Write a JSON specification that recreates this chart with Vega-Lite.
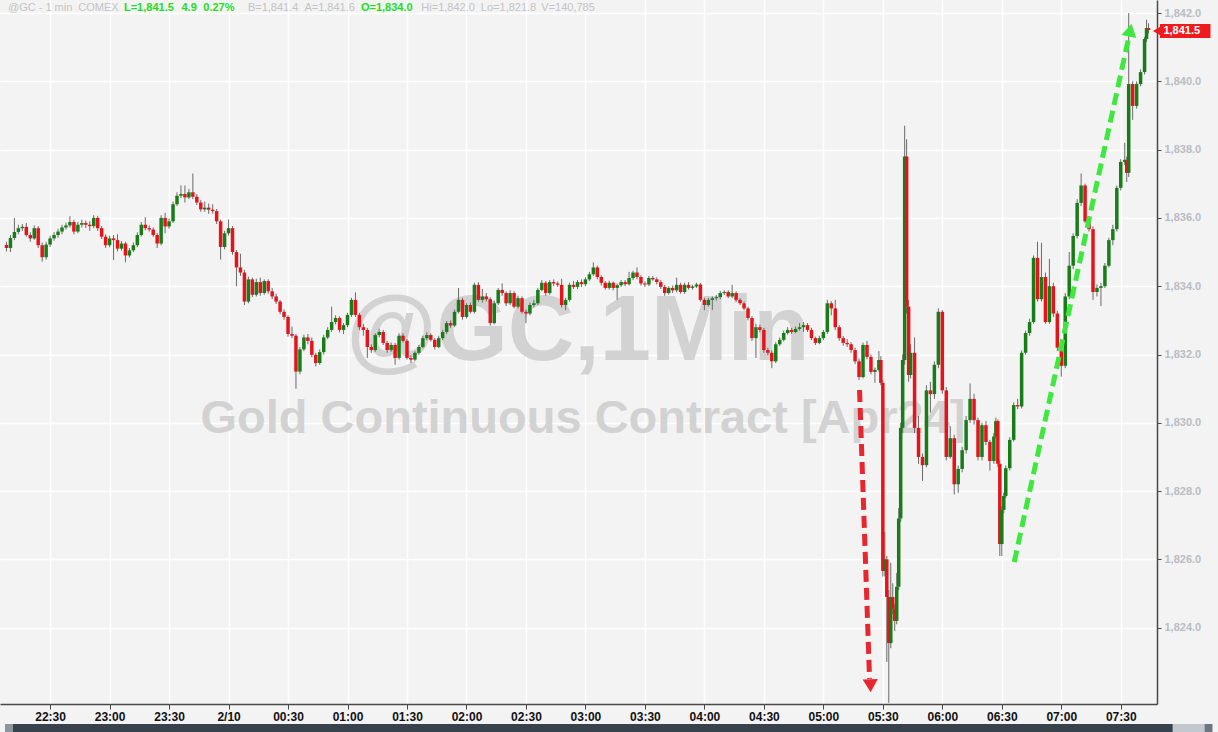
{
"$schema": "https://vega.github.io/schema/vega-lite/v6.json",
"width": 1157,
"height": 704,
"autosize": {"type": "none"},
"padding": {"left": 0, "top": 0, "right": 61, "bottom": 28},
"background": "#f3f3f3",
"resolve": {"scale": {"color": "independent"}},
"config": {
"view": {"stroke": null, "fill": "#f3f3f3"},
"font": "Liberation Sans",
"axisX": {"grid": true, "gridColor": "#ffffff", "gridWidth": 1.5, "domainColor": "#4a4a4a", "domainWidth": 1.5, "tickColor": "#4a4a4a", "tickSize": 5, "labelColor": "#111111", "labelFont": "Liberation Sans", "labelFontSize": 12, "labelFontWeight": "bold", "labelPadding": 2, "labelOverlap": false, "labelFlush": false, "title": null},
"axisY": {"grid": true, "gridColor": "#ffffff", "gridWidth": 1.5, "domainColor": "#4a4a4a", "domainWidth": 1.5, "tickColor": "#4a4a4a", "tickSize": 4, "labelColor": "#b9bdc3", "labelFont": "Liberation Sans", "labelFontSize": 11, "labelFontWeight": "bold", "labelPadding": 3, "labelOverlap": false, "labelFlush": false, "title": null}
},
"datasets": {
"candles": [
{"m":8,"o":1835.21,"h":1835.3,"l":1835.02,"c":1835.12},
{"m":10,"o":1835.12,"h":1835.5,"l":1835.0,"c":1835.41},
{"m":12,"o":1835.41,"h":1836.0,"l":1835.35,"c":1835.59},
{"m":14,"o":1835.59,"h":1835.8,"l":1835.52,"c":1835.7},
{"m":16,"o":1835.7,"h":1835.82,"l":1835.62,"c":1835.74},
{"m":18,"o":1835.74,"h":1835.85,"l":1835.45,"c":1835.5},
{"m":20,"o":1835.5,"h":1835.58,"l":1835.3,"c":1835.4},
{"m":22,"o":1835.4,"h":1835.78,"l":1835.36,"c":1835.7},
{"m":24,"o":1835.7,"h":1835.76,"l":1835.12,"c":1835.2},
{"m":26,"o":1835.2,"h":1835.28,"l":1834.72,"c":1834.85},
{"m":28,"o":1834.85,"h":1835.3,"l":1834.78,"c":1835.22},
{"m":30,"o":1835.22,"h":1835.48,"l":1835.15,"c":1835.4},
{"m":32,"o":1835.4,"h":1835.58,"l":1835.33,"c":1835.5},
{"m":34,"o":1835.5,"h":1835.68,"l":1835.42,"c":1835.6},
{"m":36,"o":1835.6,"h":1835.8,"l":1835.52,"c":1835.72},
{"m":38,"o":1835.72,"h":1835.86,"l":1835.66,"c":1835.78},
{"m":40,"o":1835.78,"h":1836.05,"l":1835.72,"c":1835.88},
{"m":42,"o":1835.88,"h":1835.95,"l":1835.52,"c":1835.6},
{"m":44,"o":1835.6,"h":1835.88,"l":1835.55,"c":1835.8},
{"m":46,"o":1835.8,"h":1835.95,"l":1835.72,"c":1835.85},
{"m":48,"o":1835.85,"h":1835.92,"l":1835.7,"c":1835.8},
{"m":50,"o":1835.8,"h":1835.9,"l":1835.62,"c":1835.76},
{"m":52,"o":1835.76,"h":1836.08,"l":1835.7,"c":1836.0},
{"m":54,"o":1836.0,"h":1836.06,"l":1835.62,"c":1835.7},
{"m":56,"o":1835.7,"h":1835.76,"l":1835.38,"c":1835.45},
{"m":58,"o":1835.45,"h":1835.52,"l":1835.12,"c":1835.2},
{"m":60,"o":1835.2,"h":1835.48,"l":1835.14,"c":1835.4},
{"m":62,"o":1835.4,"h":1835.5,"l":1834.77,"c":1835.35},
{"m":64,"o":1835.35,"h":1835.52,"l":1835.02,"c":1835.1},
{"m":66,"o":1835.1,"h":1835.32,"l":1835.04,"c":1835.25},
{"m":68,"o":1835.25,"h":1835.3,"l":1834.7,"c":1834.9},
{"m":70,"o":1834.9,"h":1835.12,"l":1834.84,"c":1835.05},
{"m":72,"o":1835.05,"h":1835.28,"l":1835.0,"c":1835.2},
{"m":74,"o":1835.2,"h":1835.58,"l":1835.14,"c":1835.5},
{"m":76,"o":1835.5,"h":1835.88,"l":1835.45,"c":1835.8},
{"m":78,"o":1835.8,"h":1836.02,"l":1835.64,"c":1835.7},
{"m":80,"o":1835.7,"h":1835.78,"l":1835.6,"c":1835.66},
{"m":82,"o":1835.66,"h":1835.72,"l":1835.44,"c":1835.5},
{"m":84,"o":1835.5,"h":1835.56,"l":1835.12,"c":1835.25},
{"m":86,"o":1835.25,"h":1836.08,"l":1835.2,"c":1836.0},
{"m":88,"o":1836.0,"h":1836.15,"l":1835.55,"c":1835.75},
{"m":90,"o":1835.75,"h":1835.98,"l":1835.68,"c":1835.9},
{"m":92,"o":1835.9,"h":1836.48,"l":1835.85,"c":1836.4},
{"m":94,"o":1836.4,"h":1836.75,"l":1836.35,"c":1836.65},
{"m":96,"o":1836.65,"h":1836.95,"l":1836.58,"c":1836.7},
{"m":98,"o":1836.7,"h":1836.95,"l":1836.45,"c":1836.6},
{"m":100,"o":1836.6,"h":1836.85,"l":1836.55,"c":1836.75},
{"m":102,"o":1836.75,"h":1837.3,"l":1836.55,"c":1836.62},
{"m":104,"o":1836.62,"h":1836.7,"l":1836.38,"c":1836.45},
{"m":106,"o":1836.45,"h":1836.52,"l":1836.18,"c":1836.25},
{"m":108,"o":1836.25,"h":1836.48,"l":1836.18,"c":1836.3},
{"m":110,"o":1836.3,"h":1836.42,"l":1836.12,"c":1836.24},
{"m":112,"o":1836.24,"h":1836.4,"l":1836.12,"c":1836.2},
{"m":114,"o":1836.2,"h":1836.26,"l":1835.82,"c":1835.9},
{"m":116,"o":1835.9,"h":1835.95,"l":1834.78,"c":1835.15},
{"m":118,"o":1835.15,"h":1835.62,"l":1835.08,"c":1835.55},
{"m":120,"o":1835.55,"h":1835.95,"l":1835.48,"c":1835.7},
{"m":122,"o":1835.7,"h":1835.76,"l":1834.92,"c":1835.0},
{"m":124,"o":1835.0,"h":1835.06,"l":1834.0,"c":1834.55},
{"m":126,"o":1834.55,"h":1834.95,"l":1834.3,"c":1834.4},
{"m":128,"o":1834.4,"h":1834.48,"l":1833.45,"c":1833.55},
{"m":130,"o":1833.55,"h":1834.28,"l":1833.5,"c":1834.2},
{"m":132,"o":1834.2,"h":1834.25,"l":1833.68,"c":1833.75},
{"m":134,"o":1833.75,"h":1834.22,"l":1833.7,"c":1834.12},
{"m":136,"o":1834.12,"h":1834.25,"l":1833.72,"c":1833.8},
{"m":138,"o":1833.8,"h":1834.2,"l":1833.75,"c":1834.15},
{"m":140,"o":1834.15,"h":1834.2,"l":1833.78,"c":1833.85},
{"m":142,"o":1833.85,"h":1833.95,"l":1833.62,"c":1833.7},
{"m":144,"o":1833.7,"h":1833.78,"l":1833.48,"c":1833.55},
{"m":146,"o":1833.55,"h":1833.6,"l":1833.18,"c":1833.25},
{"m":148,"o":1833.25,"h":1833.32,"l":1833.02,"c":1833.1},
{"m":150,"o":1833.1,"h":1833.15,"l":1832.52,"c":1832.6},
{"m":152,"o":1832.6,"h":1832.82,"l":1832.48,"c":1832.55},
{"m":154,"o":1832.55,"h":1832.6,"l":1831.0,"c":1831.5},
{"m":156,"o":1831.5,"h":1832.22,"l":1831.42,"c":1832.15},
{"m":158,"o":1832.15,"h":1832.58,"l":1832.1,"c":1832.5},
{"m":160,"o":1832.5,"h":1832.6,"l":1832.3,"c":1832.4},
{"m":162,"o":1832.4,"h":1832.5,"l":1831.92,"c":1831.99},
{"m":164,"o":1831.99,"h":1832.05,"l":1831.65,"c":1831.75},
{"m":166,"o":1831.75,"h":1832.15,"l":1831.7,"c":1832.07},
{"m":168,"o":1832.07,"h":1832.58,"l":1832.0,"c":1832.5},
{"m":170,"o":1832.5,"h":1832.8,"l":1832.45,"c":1832.72},
{"m":172,"o":1832.72,"h":1833.4,"l":1832.66,"c":1832.95},
{"m":174,"o":1832.95,"h":1833.15,"l":1832.88,"c":1833.07},
{"m":176,"o":1833.07,"h":1833.12,"l":1832.65,"c":1832.72},
{"m":178,"o":1832.72,"h":1832.92,"l":1832.6,"c":1832.86},
{"m":180,"o":1832.86,"h":1833.22,"l":1832.8,"c":1833.16},
{"m":182,"o":1833.16,"h":1833.66,"l":1833.1,"c":1833.6},
{"m":184,"o":1833.6,"h":1833.82,"l":1833.1,"c":1833.16},
{"m":186,"o":1833.16,"h":1833.22,"l":1832.72,"c":1832.8},
{"m":188,"o":1832.8,"h":1832.9,"l":1832.55,"c":1832.72},
{"m":190,"o":1832.72,"h":1832.78,"l":1831.9,"c":1832.22},
{"m":192,"o":1832.22,"h":1832.3,"l":1832.05,"c":1832.13},
{"m":194,"o":1832.13,"h":1832.62,"l":1832.08,"c":1832.57},
{"m":196,"o":1832.57,"h":1832.75,"l":1832.5,"c":1832.66},
{"m":198,"o":1832.66,"h":1832.72,"l":1832.28,"c":1832.34},
{"m":200,"o":1832.34,"h":1832.4,"l":1832.05,"c":1832.13},
{"m":202,"o":1832.13,"h":1832.35,"l":1832.08,"c":1832.28},
{"m":204,"o":1832.28,"h":1832.34,"l":1831.7,"c":1831.9},
{"m":206,"o":1831.9,"h":1832.62,"l":1831.85,"c":1832.55},
{"m":208,"o":1832.55,"h":1832.62,"l":1832.35,"c":1832.4},
{"m":210,"o":1832.4,"h":1832.45,"l":1831.85,"c":1831.9},
{"m":212,"o":1831.9,"h":1831.98,"l":1831.75,"c":1831.85},
{"m":214,"o":1831.85,"h":1832.1,"l":1831.8,"c":1832.05},
{"m":216,"o":1832.05,"h":1832.28,"l":1832.0,"c":1832.22},
{"m":218,"o":1832.22,"h":1832.55,"l":1832.18,"c":1832.48},
{"m":220,"o":1832.48,"h":1832.65,"l":1832.42,"c":1832.57},
{"m":222,"o":1832.57,"h":1832.62,"l":1832.38,"c":1832.43},
{"m":224,"o":1832.43,"h":1832.48,"l":1832.15,"c":1832.22},
{"m":226,"o":1832.22,"h":1832.55,"l":1832.18,"c":1832.48},
{"m":228,"o":1832.48,"h":1832.72,"l":1832.42,"c":1832.66},
{"m":230,"o":1832.66,"h":1832.98,"l":1832.6,"c":1832.92},
{"m":232,"o":1832.92,"h":1833.0,"l":1832.78,"c":1832.85},
{"m":234,"o":1832.85,"h":1833.32,"l":1832.8,"c":1833.25},
{"m":236,"o":1833.25,"h":1833.95,"l":1833.2,"c":1833.6},
{"m":238,"o":1833.6,"h":1833.66,"l":1833.02,"c":1833.1},
{"m":240,"o":1833.1,"h":1833.5,"l":1833.05,"c":1833.45},
{"m":242,"o":1833.45,"h":1833.52,"l":1833.2,"c":1833.25},
{"m":244,"o":1833.25,"h":1834.1,"l":1833.2,"c":1834.04},
{"m":246,"o":1834.04,"h":1834.12,"l":1833.55,"c":1833.6},
{"m":248,"o":1833.6,"h":1833.92,"l":1833.52,"c":1833.7},
{"m":250,"o":1833.7,"h":1833.8,"l":1833.55,"c":1833.62},
{"m":252,"o":1833.62,"h":1833.68,"l":1832.85,"c":1832.92},
{"m":254,"o":1832.92,"h":1833.58,"l":1832.88,"c":1833.5},
{"m":256,"o":1833.5,"h":1833.95,"l":1833.45,"c":1833.89},
{"m":258,"o":1833.89,"h":1834.08,"l":1833.72,"c":1833.8},
{"m":260,"o":1833.8,"h":1833.85,"l":1833.42,"c":1833.5},
{"m":262,"o":1833.5,"h":1833.88,"l":1833.45,"c":1833.8},
{"m":264,"o":1833.8,"h":1833.85,"l":1833.35,"c":1833.4},
{"m":266,"o":1833.4,"h":1833.72,"l":1833.35,"c":1833.65},
{"m":268,"o":1833.65,"h":1833.7,"l":1833.2,"c":1833.25},
{"m":270,"o":1833.25,"h":1833.32,"l":1832.92,"c":1833.2},
{"m":272,"o":1833.2,"h":1833.52,"l":1833.15,"c":1833.45},
{"m":274,"o":1833.45,"h":1833.6,"l":1833.38,"c":1833.5},
{"m":276,"o":1833.5,"h":1833.95,"l":1833.45,"c":1833.89},
{"m":278,"o":1833.89,"h":1834.18,"l":1833.85,"c":1834.1},
{"m":280,"o":1834.1,"h":1834.15,"l":1833.72,"c":1833.8},
{"m":282,"o":1833.8,"h":1834.18,"l":1833.75,"c":1834.12},
{"m":284,"o":1834.12,"h":1834.2,"l":1834.0,"c":1834.08},
{"m":286,"o":1834.08,"h":1834.14,"l":1833.98,"c":1834.04},
{"m":288,"o":1834.04,"h":1834.22,"l":1833.38,"c":1833.45},
{"m":290,"o":1833.45,"h":1833.66,"l":1833.3,"c":1833.6},
{"m":292,"o":1833.6,"h":1834.1,"l":1833.55,"c":1834.04},
{"m":294,"o":1834.04,"h":1834.15,"l":1833.92,"c":1833.98},
{"m":296,"o":1833.98,"h":1834.18,"l":1833.92,"c":1834.12},
{"m":298,"o":1834.12,"h":1834.2,"l":1833.98,"c":1834.06},
{"m":300,"o":1834.06,"h":1834.26,"l":1834.0,"c":1834.2},
{"m":302,"o":1834.2,"h":1834.42,"l":1834.15,"c":1834.35},
{"m":304,"o":1834.35,"h":1834.7,"l":1834.3,"c":1834.55},
{"m":306,"o":1834.55,"h":1834.6,"l":1834.2,"c":1834.27},
{"m":308,"o":1834.27,"h":1834.32,"l":1834.02,"c":1834.1},
{"m":310,"o":1834.1,"h":1834.15,"l":1833.9,"c":1833.95},
{"m":312,"o":1833.95,"h":1834.16,"l":1833.9,"c":1834.1},
{"m":314,"o":1834.1,"h":1834.14,"l":1833.88,"c":1833.95},
{"m":316,"o":1833.95,"h":1834.08,"l":1833.6,"c":1834.03},
{"m":318,"o":1834.03,"h":1834.18,"l":1833.98,"c":1834.12},
{"m":320,"o":1834.12,"h":1834.18,"l":1834.0,"c":1834.06},
{"m":322,"o":1834.06,"h":1834.42,"l":1834.02,"c":1834.24},
{"m":324,"o":1834.24,"h":1834.45,"l":1834.18,"c":1834.4},
{"m":326,"o":1834.4,"h":1834.55,"l":1834.2,"c":1834.27},
{"m":328,"o":1834.27,"h":1834.32,"l":1834.02,"c":1834.08},
{"m":330,"o":1834.08,"h":1834.14,"l":1833.98,"c":1834.05},
{"m":332,"o":1834.05,"h":1834.3,"l":1834.0,"c":1834.24},
{"m":334,"o":1834.24,"h":1834.3,"l":1834.16,"c":1834.2},
{"m":336,"o":1834.2,"h":1834.26,"l":1834.05,"c":1834.12},
{"m":338,"o":1834.12,"h":1834.18,"l":1833.92,"c":1833.98},
{"m":340,"o":1833.98,"h":1834.04,"l":1833.72,"c":1833.8},
{"m":342,"o":1833.8,"h":1834.0,"l":1833.75,"c":1833.95},
{"m":344,"o":1833.95,"h":1834.02,"l":1833.8,"c":1833.88},
{"m":346,"o":1833.88,"h":1834.25,"l":1833.82,"c":1834.04},
{"m":348,"o":1834.04,"h":1834.1,"l":1833.78,"c":1833.83},
{"m":350,"o":1833.83,"h":1834.1,"l":1833.78,"c":1834.04},
{"m":352,"o":1834.04,"h":1834.12,"l":1833.9,"c":1833.95},
{"m":354,"o":1833.95,"h":1834.04,"l":1833.9,"c":1833.99},
{"m":356,"o":1833.99,"h":1834.1,"l":1833.95,"c":1834.05},
{"m":358,"o":1834.05,"h":1834.1,"l":1833.55,"c":1833.6},
{"m":360,"o":1833.6,"h":1833.66,"l":1833.3,"c":1833.45},
{"m":362,"o":1833.45,"h":1833.66,"l":1833.4,"c":1833.6},
{"m":364,"o":1833.6,"h":1833.7,"l":1833.3,"c":1833.65},
{"m":366,"o":1833.65,"h":1833.74,"l":1833.58,"c":1833.68},
{"m":368,"o":1833.68,"h":1833.86,"l":1833.62,"c":1833.8},
{"m":370,"o":1833.8,"h":1833.88,"l":1833.74,"c":1833.83},
{"m":372,"o":1833.83,"h":1833.88,"l":1833.65,"c":1833.7},
{"m":374,"o":1833.7,"h":1834.04,"l":1833.65,"c":1833.8},
{"m":376,"o":1833.8,"h":1833.85,"l":1833.55,"c":1833.6},
{"m":378,"o":1833.6,"h":1833.65,"l":1833.45,"c":1833.5},
{"m":380,"o":1833.5,"h":1833.55,"l":1833.3,"c":1833.35},
{"m":382,"o":1833.35,"h":1833.4,"l":1833.0,"c":1833.07},
{"m":384,"o":1833.07,"h":1833.12,"l":1832.4,"c":1832.48},
{"m":386,"o":1832.48,"h":1832.9,"l":1831.9,"c":1832.8},
{"m":388,"o":1832.8,"h":1832.88,"l":1832.65,"c":1832.72},
{"m":390,"o":1832.72,"h":1832.78,"l":1832.05,"c":1832.13},
{"m":392,"o":1832.13,"h":1832.2,"l":1831.98,"c":1832.05},
{"m":394,"o":1832.05,"h":1832.12,"l":1831.6,"c":1831.8},
{"m":396,"o":1831.8,"h":1832.36,"l":1831.75,"c":1832.3},
{"m":398,"o":1832.3,"h":1832.5,"l":1832.25,"c":1832.43},
{"m":400,"o":1832.43,"h":1832.7,"l":1832.38,"c":1832.63},
{"m":402,"o":1832.63,"h":1832.8,"l":1832.58,"c":1832.72},
{"m":404,"o":1832.72,"h":1832.78,"l":1832.6,"c":1832.66},
{"m":406,"o":1832.66,"h":1832.82,"l":1832.62,"c":1832.75},
{"m":408,"o":1832.75,"h":1832.92,"l":1832.7,"c":1832.8},
{"m":410,"o":1832.8,"h":1832.95,"l":1832.66,"c":1832.86},
{"m":412,"o":1832.86,"h":1832.92,"l":1832.66,"c":1832.72},
{"m":414,"o":1832.72,"h":1832.78,"l":1832.42,"c":1832.48},
{"m":416,"o":1832.48,"h":1832.52,"l":1832.28,"c":1832.34},
{"m":418,"o":1832.34,"h":1832.55,"l":1832.3,"c":1832.48},
{"m":420,"o":1832.48,"h":1832.72,"l":1832.42,"c":1832.66},
{"m":422,"o":1832.66,"h":1833.6,"l":1832.6,"c":1833.5},
{"m":424,"o":1833.5,"h":1833.56,"l":1833.15,"c":1833.35},
{"m":426,"o":1833.35,"h":1833.6,"l":1832.72,"c":1832.8},
{"m":428,"o":1832.8,"h":1832.86,"l":1832.4,"c":1832.48},
{"m":430,"o":1832.48,"h":1832.54,"l":1832.26,"c":1832.34},
{"m":432,"o":1832.34,"h":1832.45,"l":1832.22,"c":1832.3},
{"m":434,"o":1832.3,"h":1832.36,"l":1832.05,"c":1832.13},
{"m":436,"o":1832.13,"h":1832.2,"l":1831.72,"c":1831.8},
{"m":438,"o":1831.8,"h":1831.88,"l":1831.25,"c":1831.34},
{"m":440,"o":1831.34,"h":1832.35,"l":1831.3,"c":1832.28},
{"m":442,"o":1832.28,"h":1832.4,"l":1831.86,"c":1831.93},
{"m":444,"o":1831.93,"h":1832.0,"l":1831.42,"c":1831.49},
{"m":446,"o":1831.49,"h":1831.62,"l":1831.17,"c":1831.55},
{"m":448,"o":1831.55,"h":1832.1,"l":1831.5,"c":1831.84},
{"m":449,"o":1831.84,"h":1831.95,"l":1831.1,"c":1831.17},
{"m":450,"o":1831.17,"h":1831.25,"l":1825.5,"c":1825.66},
{"m":451,"o":1825.66,"h":1826.8,"l":1825.5,"c":1826.0},
{"m":452,"o":1826.0,"h":1826.1,"l":1823.0,"c":1824.9},
{"m":453,"o":1824.9,"h":1825.1,"l":1821.8,"c":1823.55},
{"m":454,"o":1823.55,"h":1825.9,"l":1823.4,"c":1824.9},
{"m":455,"o":1824.9,"h":1825.3,"l":1824.4,"c":1824.55},
{"m":456,"o":1824.55,"h":1824.7,"l":1823.9,"c":1824.2},
{"m":457,"o":1824.2,"h":1825.6,"l":1824.1,"c":1825.2},
{"m":458,"o":1825.2,"h":1827.5,"l":1825.1,"c":1827.2},
{"m":459,"o":1827.2,"h":1830.0,"l":1827.1,"c":1829.85},
{"m":460,"o":1829.85,"h":1832.0,"l":1829.7,"c":1831.84},
{"m":461,"o":1831.84,"h":1838.7,"l":1831.7,"c":1837.8},
{"m":462,"o":1837.8,"h":1838.3,"l":1833.2,"c":1833.4},
{"m":463,"o":1833.4,"h":1833.6,"l":1831.2,"c":1831.4},
{"m":464,"o":1831.4,"h":1832.3,"l":1831.3,"c":1832.05},
{"m":466,"o":1832.05,"h":1832.5,"l":1829.7,"c":1829.85},
{"m":468,"o":1829.85,"h":1830.2,"l":1828.8,"c":1829.0},
{"m":470,"o":1829.0,"h":1829.1,"l":1828.3,"c":1828.76},
{"m":472,"o":1828.76,"h":1831.1,"l":1828.7,"c":1830.95},
{"m":474,"o":1830.95,"h":1831.2,"l":1830.3,"c":1830.84},
{"m":476,"o":1830.84,"h":1831.8,"l":1830.7,"c":1831.7},
{"m":478,"o":1831.7,"h":1833.35,"l":1831.6,"c":1833.25},
{"m":480,"o":1833.25,"h":1833.3,"l":1830.85,"c":1830.95},
{"m":482,"o":1830.95,"h":1831.05,"l":1828.9,"c":1829.0},
{"m":484,"o":1829.0,"h":1829.9,"l":1828.95,"c":1829.55},
{"m":486,"o":1829.55,"h":1829.65,"l":1827.9,"c":1828.2},
{"m":488,"o":1828.2,"h":1828.75,"l":1827.95,"c":1828.65},
{"m":490,"o":1828.65,"h":1829.3,"l":1828.55,"c":1829.2},
{"m":492,"o":1829.2,"h":1830.2,"l":1829.1,"c":1830.08},
{"m":494,"o":1830.08,"h":1831.15,"l":1830.0,"c":1830.7},
{"m":496,"o":1830.7,"h":1830.85,"l":1829.95,"c":1830.08},
{"m":498,"o":1830.08,"h":1830.15,"l":1828.9,"c":1829.0},
{"m":500,"o":1829.0,"h":1830.0,"l":1828.9,"c":1829.93},
{"m":502,"o":1829.93,"h":1830.05,"l":1829.35,"c":1829.44},
{"m":504,"o":1829.44,"h":1829.5,"l":1828.6,"c":1828.88},
{"m":506,"o":1828.88,"h":1829.7,"l":1828.8,"c":1829.6},
{"m":507,"o":1829.6,"h":1830.15,"l":1829.55,"c":1830.05},
{"m":508,"o":1830.05,"h":1830.1,"l":1828.7,"c":1828.8},
{"m":509,"o":1828.8,"h":1828.9,"l":1826.1,"c":1826.45},
{"m":510,"o":1826.45,"h":1827.55,"l":1826.1,"c":1827.45},
{"m":511,"o":1827.45,"h":1827.95,"l":1827.35,"c":1827.86},
{"m":512,"o":1827.86,"h":1828.75,"l":1827.8,"c":1828.67},
{"m":514,"o":1828.67,"h":1829.58,"l":1828.6,"c":1829.5},
{"m":516,"o":1829.5,"h":1830.6,"l":1829.45,"c":1830.52},
{"m":518,"o":1830.52,"h":1830.7,"l":1830.4,"c":1830.48},
{"m":520,"o":1830.48,"h":1832.12,"l":1830.42,"c":1832.05},
{"m":522,"o":1832.05,"h":1832.7,"l":1832.0,"c":1832.63},
{"m":524,"o":1832.63,"h":1833.05,"l":1832.55,"c":1832.95},
{"m":526,"o":1832.95,"h":1834.9,"l":1832.9,"c":1834.83},
{"m":528,"o":1834.83,"h":1835.3,"l":1833.55,"c":1833.62},
{"m":530,"o":1833.62,"h":1835.27,"l":1833.55,"c":1834.27},
{"m":532,"o":1834.27,"h":1834.4,"l":1832.9,"c":1832.95},
{"m":534,"o":1832.95,"h":1834.8,"l":1832.9,"c":1834.0},
{"m":536,"o":1834.0,"h":1834.1,"l":1833.1,"c":1833.2},
{"m":538,"o":1833.2,"h":1833.28,"l":1832.1,"c":1832.2},
{"m":540,"o":1832.2,"h":1832.3,"l":1831.35,"c":1831.67},
{"m":542,"o":1831.67,"h":1833.8,"l":1831.6,"c":1833.7},
{"m":544,"o":1833.7,"h":1835.0,"l":1833.62,"c":1834.6},
{"m":546,"o":1834.6,"h":1835.55,"l":1834.5,"c":1835.47},
{"m":548,"o":1835.47,"h":1836.55,"l":1835.4,"c":1836.44},
{"m":550,"o":1836.44,"h":1837.3,"l":1836.35,"c":1836.95},
{"m":552,"o":1836.95,"h":1837.0,"l":1835.85,"c":1835.9},
{"m":554,"o":1835.9,"h":1836.05,"l":1835.6,"c":1835.67},
{"m":556,"o":1835.67,"h":1835.75,"l":1833.6,"c":1833.83},
{"m":558,"o":1833.83,"h":1834.05,"l":1833.7,"c":1833.95},
{"m":560,"o":1833.95,"h":1834.1,"l":1833.42,"c":1834.0},
{"m":562,"o":1834.0,"h":1834.68,"l":1833.95,"c":1834.6},
{"m":564,"o":1834.6,"h":1835.42,"l":1834.55,"c":1835.35},
{"m":566,"o":1835.35,"h":1835.8,"l":1835.2,"c":1835.67},
{"m":568,"o":1835.67,"h":1836.95,"l":1835.6,"c":1836.88},
{"m":570,"o":1836.88,"h":1837.72,"l":1836.8,"c":1837.64},
{"m":572,"o":1837.64,"h":1838.2,"l":1837.55,"c":1837.7},
{"m":573,"o":1837.7,"h":1837.8,"l":1837.05,"c":1837.32},
{"m":574,"o":1837.32,"h":1842.0,"l":1837.2,"c":1839.92},
{"m":576,"o":1839.92,"h":1840.0,"l":1838.87,"c":1839.28},
{"m":578,"o":1839.28,"h":1840.0,"l":1839.2,"c":1839.92},
{"m":580,"o":1839.92,"h":1840.35,"l":1839.85,"c":1840.27},
{"m":582,"o":1840.27,"h":1841.3,"l":1840.2,"c":1841.24},
{"m":583,"o":1841.24,"h":1841.8,"l":1841.15,"c":1841.56},
{"m":584,"o":1841.56,"h":1841.7,"l":1841.4,"c":1841.5}
],
"arrows": [
{"kind":"down","m1":438.25,"p1":1830.96,"m2":443.3,"p2":1822.5,"hm":443.75,"hp":1822.3},
{"kind":"up","m1":516.25,"p1":1825.92,"m2":573.7,"p2":1841.2,"hm":574.75,"hp":1841.5}
],
"marks": [
{"t":"@GC,1Min","m":296.25,"p":1831.84,"kind":"big"},
{"t":"Gold Continuous Contract [Apr24]","m":298.75,"p":1829.7,"kind":"sub"}
],
"header": [
{"t":"@GC - 1 min","m":8.75,"tone":"grey"},
{"t":"COMEX","m":44.25,"tone":"grey"},
{"t":"L=1,841.5","m":67.25,"tone":"green"},
{"t":"4.9","m":96.25,"tone":"green"},
{"t":"0.27%","m":107.25,"tone":"green"},
{"t":"B=1,841.4","m":129.75,"tone":"grey"},
{"t":"A=1,841.6","m":158.25,"tone":"grey"},
{"t":"O=1,834.0","m":186.75,"tone":"green"},
{"t":"Hi=1,842.0","m":217.25,"tone":"grey"},
{"t":"Lo=1,821.8","m":247.25,"tone":"grey"},
{"t":"V=140,785","m":277.75,"tone":"grey"}
],
"tag": [{"t":"1,841.5","m1":589.75,"m2":615.25,"p1":1841.68,"p2":1841.27,"pm":1841.47,"tm":588.5,"lm":591.5}],
"strip": [
{"part":"a","x1":7.25,"x2":11.25,"y1":1821.18,"y2":1820.94},
{"part":"b","x1":11.25,"x2":596.25,"y1":1821.18,"y2":1820.94},
{"part":"c","x1":596.25,"x2":612.25,"y1":1821.18,"y2":1820.94},
{"part":"d","x1":612.25,"x2":616.25,"y1":1821.18,"y2":1820.94}
]
},
"layer": [
{
"data": {"name": "marks"},
"transform": [{"filter": "datum.kind == 'big'"}],
"mark": {"type": "text", "align": "center", "baseline": "alphabetic", "fontSize": 92, "fontWeight": "bold", "color": "#d2d2d2", "font": "Liberation Sans"},
"encoding": {
"x": {"field": "m", "type": "quantitative", "scale": {"domain": [7.25, 585.75], "nice": false, "zero": false}, "axis": {"values": [30,60,90,120,150,180,210,240,270,300,330,360,390,420,450,480,510,540,570], "labelExpr": "datum.value == 120 ? '2/10' : pad(floor((22 + datum.value/60) % 24) + '', 2, '0', 'left') + ':' + pad((datum.value % 60) + '', 2, '0', 'left')"}},
"y": {"field": "p", "type": "quantitative", "scale": {"domain": [1821.766, 1842.381], "nice": false, "zero": false}, "axis": {"orient": "right", "values": [1824,1826,1828,1830,1832,1834,1836,1838,1840,1842], "format": ",.1f"}},
"text": {"field": "t"}
}
},
{
"data": {"name": "marks"},
"transform": [{"filter": "datum.kind == 'sub'"}],
"mark": {"type": "text", "align": "center", "baseline": "alphabetic", "fontSize": 47, "fontWeight": "bold", "color": "#d2d2d2", "font": "Liberation Sans"},
"encoding": {
"x": {"field": "m", "type": "quantitative", "scale": {"domain": [7.25, 585.75], "nice": false, "zero": false}, "axis": {"values": [30,60,90,120,150,180,210,240,270,300,330,360,390,420,450,480,510,540,570], "labelExpr": "datum.value == 120 ? '2/10' : pad(floor((22 + datum.value/60) % 24) + '', 2, '0', 'left') + ':' + pad((datum.value % 60) + '', 2, '0', 'left')"}},
"y": {"field": "p", "type": "quantitative", "scale": {"domain": [1821.766, 1842.381], "nice": false, "zero": false}, "axis": {"orient": "right", "values": [1824,1826,1828,1830,1832,1834,1836,1838,1840,1842], "format": ",.1f"}},
"text": {"field": "t"}
}
},
{
"data": {"name": "candles"},
"mark": {"type": "rule", "color": "#6a6a6a", "strokeWidth": 1},
"encoding": {
"x": {"field": "m", "type": "quantitative", "scale": {"domain": [7.25, 585.75], "nice": false, "zero": false}, "axis": {"values": [30,60,90,120,150,180,210,240,270,300,330,360,390,420,450,480,510,540,570], "labelExpr": "datum.value == 120 ? '2/10' : pad(floor((22 + datum.value/60) % 24) + '', 2, '0', 'left') + ':' + pad((datum.value % 60) + '', 2, '0', 'left')"}},
"y": {"field": "l", "type": "quantitative", "scale": {"domain": [1821.766, 1842.381], "nice": false, "zero": false}, "axis": {"orient": "right", "values": [1824,1826,1828,1830,1832,1834,1836,1838,1840,1842], "format": ",.1f"}},
"y2": {"field": "h"}
}
},
{
"data": {"name": "candles"},
"mark": {"type": "bar", "size": 3.5},
"encoding": {
"x": {"field": "m", "type": "quantitative", "scale": {"domain": [7.25, 585.75], "nice": false, "zero": false}, "axis": {"values": [30,60,90,120,150,180,210,240,270,300,330,360,390,420,450,480,510,540,570], "labelExpr": "datum.value == 120 ? '2/10' : pad(floor((22 + datum.value/60) % 24) + '', 2, '0', 'left') + ':' + pad((datum.value % 60) + '', 2, '0', 'left')"}},
"y": {"field": "o", "type": "quantitative", "scale": {"domain": [1821.766, 1842.381], "nice": false, "zero": false}, "axis": {"orient": "right", "values": [1824,1826,1828,1830,1832,1834,1836,1838,1840,1842], "format": ",.1f"}},
"y2": {"field": "c"},
"color": {"condition": {"test": "datum.c >= datum.o", "value": "#187d18"}, "value": "#e5141b"}
}
},
{
"data": {"name": "arrows"},
"mark": {"type": "rule", "strokeWidth": 5, "strokeDash": [12, 6], "strokeCap": "butt"},
"encoding": {
"x": {"field": "m1", "type": "quantitative", "scale": {"domain": [7.25, 585.75], "nice": false, "zero": false}, "axis": {"values": [30,60,90,120,150,180,210,240,270,300,330,360,390,420,450,480,510,540,570], "labelExpr": "datum.value == 120 ? '2/10' : pad(floor((22 + datum.value/60) % 24) + '', 2, '0', 'left') + ':' + pad((datum.value % 60) + '', 2, '0', 'left')"}},
"x2": {"field": "m2"},
"y": {"field": "p1", "type": "quantitative", "scale": {"domain": [1821.766, 1842.381], "nice": false, "zero": false}, "axis": {"orient": "right", "values": [1824,1826,1828,1830,1832,1834,1836,1838,1840,1842], "format": ",.1f"}},
"y2": {"field": "p2"},
"color": {"field": "kind", "type": "nominal", "scale": {"domain": ["down", "up"], "range": ["#e8262e", "#3ee83e"]}, "legend": null}
}
},
{
"data": {"name": "arrows"},
"transform": [{"filter": "datum.kind == 'down'"}],
"mark": {"type": "point", "shape": "triangle-down", "filled": true, "size": 230, "opacity": 1, "color": "#e8262e", "angle": -2},
"encoding": {
"x": {"field": "hm", "type": "quantitative", "scale": {"domain": [7.25, 585.75], "nice": false, "zero": false}, "axis": {"values": [30,60,90,120,150,180,210,240,270,300,330,360,390,420,450,480,510,540,570], "labelExpr": "datum.value == 120 ? '2/10' : pad(floor((22 + datum.value/60) % 24) + '', 2, '0', 'left') + ':' + pad((datum.value % 60) + '', 2, '0', 'left')"}},
"y": {"field": "hp", "type": "quantitative", "scale": {"domain": [1821.766, 1842.381], "nice": false, "zero": false}, "axis": {"orient": "right", "values": [1824,1826,1828,1830,1832,1834,1836,1838,1840,1842], "format": ",.1f"}}
}
},
{
"data": {"name": "arrows"},
"transform": [{"filter": "datum.kind == 'up'"}],
"mark": {"type": "point", "shape": "triangle-up", "filled": true, "size": 230, "opacity": 1, "color": "#3ee83e", "angle": 12},
"encoding": {
"x": {"field": "hm", "type": "quantitative", "scale": {"domain": [7.25, 585.75], "nice": false, "zero": false}, "axis": {"values": [30,60,90,120,150,180,210,240,270,300,330,360,390,420,450,480,510,540,570], "labelExpr": "datum.value == 120 ? '2/10' : pad(floor((22 + datum.value/60) % 24) + '', 2, '0', 'left') + ':' + pad((datum.value % 60) + '', 2, '0', 'left')"}},
"y": {"field": "hp", "type": "quantitative", "scale": {"domain": [1821.766, 1842.381], "nice": false, "zero": false}, "axis": {"orient": "right", "values": [1824,1826,1828,1830,1832,1834,1836,1838,1840,1842], "format": ",.1f"}}
}
},
{
"data": {"name": "header"},
"transform": [{"filter": "datum.tone == 'grey'"}],
"mark": {"type": "text", "align": "left", "baseline": "middle", "fontSize": 11, "color": "#c4c4c4", "font": "Liberation Sans", "y": 8},
"encoding": {
"x": {"field": "m", "type": "quantitative", "scale": {"domain": [7.25, 585.75], "nice": false, "zero": false}, "axis": {"values": [30,60,90,120,150,180,210,240,270,300,330,360,390,420,450,480,510,540,570], "labelExpr": "datum.value == 120 ? '2/10' : pad(floor((22 + datum.value/60) % 24) + '', 2, '0', 'left') + ':' + pad((datum.value % 60) + '', 2, '0', 'left')"}},
"text": {"field": "t"}
}
},
{
"data": {"name": "header"},
"transform": [{"filter": "datum.tone == 'green'"}],
"mark": {"type": "text", "align": "left", "baseline": "middle", "fontSize": 11, "fontWeight": "bold", "color": "#22dd22", "font": "Liberation Sans", "y": 8},
"encoding": {
"x": {"field": "m", "type": "quantitative", "scale": {"domain": [7.25, 585.75], "nice": false, "zero": false}, "axis": {"values": [30,60,90,120,150,180,210,240,270,300,330,360,390,420,450,480,510,540,570], "labelExpr": "datum.value == 120 ? '2/10' : pad(floor((22 + datum.value/60) % 24) + '', 2, '0', 'left') + ':' + pad((datum.value % 60) + '', 2, '0', 'left')"}},
"text": {"field": "t"}
}
},
{
"data": {"name": "tag"},
"mark": {"type": "rect", "color": "#ee1c1c"},
"encoding": {
"x": {"field": "m1", "type": "quantitative", "scale": {"domain": [7.25, 585.75], "nice": false, "zero": false}, "axis": {"values": [30,60,90,120,150,180,210,240,270,300,330,360,390,420,450,480,510,540,570], "labelExpr": "datum.value == 120 ? '2/10' : pad(floor((22 + datum.value/60) % 24) + '', 2, '0', 'left') + ':' + pad((datum.value % 60) + '', 2, '0', 'left')"}},
"x2": {"field": "m2"},
"y": {"field": "p1", "type": "quantitative", "scale": {"domain": [1821.766, 1842.381], "nice": false, "zero": false}, "axis": {"orient": "right", "values": [1824,1826,1828,1830,1832,1834,1836,1838,1840,1842], "format": ",.1f"}},
"y2": {"field": "p2"}
}
},
{
"data": {"name": "tag"},
"mark": {"type": "point", "shape": "triangle-left", "filled": true, "size": 110, "opacity": 1, "color": "#ee1c1c"},
"encoding": {
"x": {"field": "tm", "type": "quantitative", "scale": {"domain": [7.25, 585.75], "nice": false, "zero": false}, "axis": {"values": [30,60,90,120,150,180,210,240,270,300,330,360,390,420,450,480,510,540,570], "labelExpr": "datum.value == 120 ? '2/10' : pad(floor((22 + datum.value/60) % 24) + '', 2, '0', 'left') + ':' + pad((datum.value % 60) + '', 2, '0', 'left')"}},
"y": {"field": "pm", "type": "quantitative", "scale": {"domain": [1821.766, 1842.381], "nice": false, "zero": false}, "axis": {"orient": "right", "values": [1824,1826,1828,1830,1832,1834,1836,1838,1840,1842], "format": ",.1f"}}
}
},
{
"data": {"name": "tag"},
"mark": {"type": "text", "align": "left", "baseline": "middle", "fontSize": 11, "fontWeight": "bold", "color": "#ffffff", "font": "Liberation Sans"},
"encoding": {
"x": {"field": "lm", "type": "quantitative", "scale": {"domain": [7.25, 585.75], "nice": false, "zero": false}, "axis": {"values": [30,60,90,120,150,180,210,240,270,300,330,360,390,420,450,480,510,540,570], "labelExpr": "datum.value == 120 ? '2/10' : pad(floor((22 + datum.value/60) % 24) + '', 2, '0', 'left') + ':' + pad((datum.value % 60) + '', 2, '0', 'left')"}},
"y": {"field": "pm", "type": "quantitative", "scale": {"domain": [1821.766, 1842.381], "nice": false, "zero": false}, "axis": {"orient": "right", "values": [1824,1826,1828,1830,1832,1834,1836,1838,1840,1842], "format": ",.1f"}},
"text": {"field": "t"}
}
},
{
"data": {"name": "strip"},
"mark": {"type": "rect"},
"encoding": {
"x": {"field": "x1", "type": "quantitative", "scale": {"domain": [7.25, 585.75], "nice": false, "zero": false}, "axis": {"values": [30,60,90,120,150,180,210,240,270,300,330,360,390,420,450,480,510,540,570], "labelExpr": "datum.value == 120 ? '2/10' : pad(floor((22 + datum.value/60) % 24) + '', 2, '0', 'left') + ':' + pad((datum.value % 60) + '', 2, '0', 'left')"}},
"x2": {"field": "x2"},
"y": {"field": "y1", "type": "quantitative", "scale": {"domain": [1821.766, 1842.381], "nice": false, "zero": false}, "axis": {"orient": "right", "values": [1824,1826,1828,1830,1832,1834,1836,1838,1840,1842], "format": ",.1f"}},
"y2": {"field": "y2"},
"color": {"field": "part", "type": "nominal", "scale": {"domain": ["a", "b", "c", "d"], "range": ["#8d949d", "#37424c", "#c3c8cf", "#6e7680"]}, "legend": null}
}
}
]
}
